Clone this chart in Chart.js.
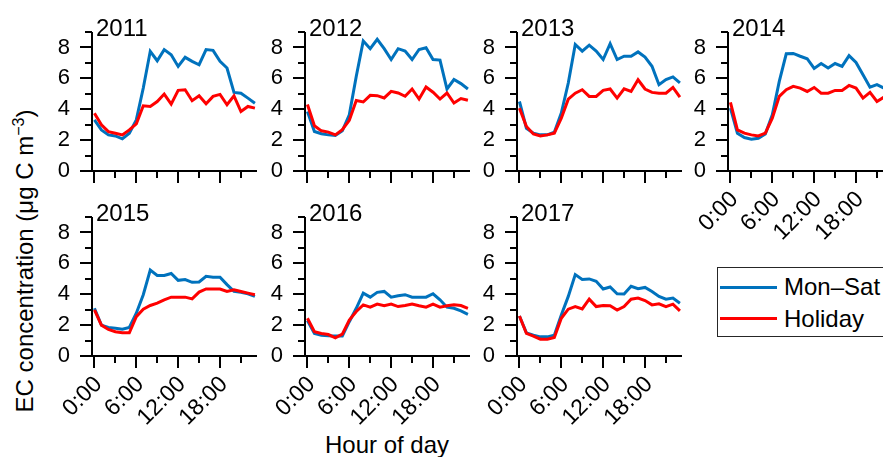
<!DOCTYPE html>
<html>
<head>
<meta charset="utf-8">
<script src="https://cdn.jsdelivr.net/npm/chart.js@4.4.1/dist/chart.umd.min.js"></script>
<style>
  html, body { margin: 0; padding: 0; background: #fff; }
  #fig { position: relative; width: 883px; height: 457px; overflow: hidden; font-family: "Liberation Sans", Arial, sans-serif; color: #000; }
  #fig canvas { position: absolute; }
  .ylab { position: absolute; left: 25px; top: 261px; font-size: 24px; line-height: 24px; white-space: nowrap; transform: translate(-50%, -50%) rotate(-90deg); }
  .ylab sup { font-size: 16px; line-height: 0; vertical-align: 9px; }
  .xlab { position: absolute; left: 387px; top: 433px; font-size: 24px; line-height: 24px; white-space: nowrap; transform: translateX(-50%); }
  .legend { position: absolute; left: 717px; top: 267px; width: 200px; height: 70px; border: 1px solid #262626; box-sizing: border-box; }
  .legend .swatch { position: absolute; left: 2px; width: 57px; height: 3px; }
  .legend .txt { position: absolute; left: 66px; font-size: 24px; line-height: 24px; white-space: nowrap; }
</style>
</head>
<body>
<div id="fig">
  <div class="ylab">EC concentration (μg C m<sup>−3</sup>)</div>
  <div class="xlab">Hour of day</div>
  <div class="legend">
    <div class="swatch" style="top:18px; background:#0072bd"></div>
    <div class="txt" style="top:7px">Mon–Sat</div>
    <div class="swatch" style="top:49px; background:#ff0000"></div>
    <div class="txt" style="top:39px">Holiday</div>
  </div>
</div>
<script>
Chart.defaults.font.family = "'Liberation Sans', Arial, sans-serif";
Chart.defaults.color = "#000";

// hour of day on x, EC concentration on y
const hours = [0, 1, 2, 3, 4, 5, 6, 7, 8, 9, 10, 11, 12, 13, 14, 15, 16, 17, 18, 19, 20, 21, 22, 23];
const xTickHours = [0, 6, 12, 18];
const xTickText = ["0:00", "6:00", "12:00", "18:00"];
const yTickValues = [0, 2, 4, 6, 8];

const monSat2011 = [3.31, 2.66, 2.34, 2.27, 2.08, 2.45, 3.31, 5.37, 7.75, 7.14, 7.86, 7.53, 6.77, 7.36, 7.1, 6.88, 7.86, 7.81, 7.1, 6.67, 5.09, 5.04, 4.72, 4.39];
const holiday2011 = [3.74, 2.99, 2.55, 2.45, 2.34, 2.66, 3.05, 4.22, 4.18, 4.5, 4.98, 4.33, 5.22, 5.26, 4.55, 4.87, 4.35, 4.83, 4.96, 4.29, 4.87, 3.85, 4.18, 4.07];

const monSat2012 = [3.86, 2.56, 2.41, 2.34, 2.3, 2.6, 3.64, 6.14, 8.42, 7.92, 8.53, 7.92, 7.22, 7.92, 7.77, 7.22, 7.87, 7.98, 7.22, 7.18, 5.31, 5.92, 5.66, 5.31];
const holiday2012 = [4.3, 2.93, 2.6, 2.52, 2.34, 2.67, 3.28, 4.56, 4.47, 4.9, 4.88, 4.73, 5.16, 5.05, 4.84, 5.31, 4.66, 5.44, 5.1, 4.66, 5.05, 4.4, 4.69, 4.58];

const monSat2013 = [4.5, 2.77, 2.45, 2.34, 2.34, 2.51, 3.75, 5.7, 8.19, 7.76, 8.15, 7.76, 7.22, 8.24, 7.22, 7.43, 7.43, 7.71, 7.38, 6.78, 5.59, 5.92, 6.09, 5.7];
const holiday2013 = [4.07, 2.88, 2.4, 2.27, 2.34, 2.45, 3.42, 4.65, 5.04, 5.26, 4.83, 4.83, 5.22, 5.31, 4.72, 5.32, 5.15, 5.91, 5.31, 5.09, 5.04, 5.04, 5.41, 4.78];

const monSat2014 = [4.07, 2.45, 2.17, 2.06, 2.12, 2.4, 3.64, 5.8, 7.59, 7.61, 7.43, 7.27, 6.64, 6.96, 6.67, 6.96, 6.78, 7.47, 7.03, 6.23, 5.43, 5.59, 5.37, 5.1];
const holiday2014 = [4.44, 2.66, 2.45, 2.34, 2.27, 2.45, 3.42, 4.83, 5.26, 5.48, 5.37, 5.15, 5.41, 5.04, 5.04, 5.22, 5.22, 5.54, 5.37, 4.72, 5.09, 4.5, 4.78, 4.7];

const monSat2015 = [3.09, 2.0, 1.85, 1.79, 1.74, 1.85, 2.77, 3.97, 5.56, 5.21, 5.21, 5.34, 4.9, 4.95, 4.77, 4.79, 5.16, 5.1, 5.1, 4.62, 4.18, 4.12, 4.03, 3.86];
const holiday2015 = [2.98, 2.0, 1.72, 1.57, 1.5, 1.5, 2.55, 3.03, 3.27, 3.42, 3.64, 3.81, 3.81, 3.81, 3.7, 4.14, 4.34, 4.34, 4.34, 4.18, 4.29, 4.18, 4.07, 3.97];

const monSat2016 = [2.29, 1.46, 1.35, 1.31, 1.29, 1.29, 2.22, 3.09, 4.07, 3.81, 4.12, 4.18, 3.81, 3.9, 3.97, 3.81, 3.81, 3.81, 4.03, 3.64, 3.16, 3.09, 2.92, 2.7];
const holiday2016 = [2.44, 1.57, 1.46, 1.39, 1.18, 1.42, 2.33, 2.88, 3.31, 3.16, 3.36, 3.25, 3.36, 3.2, 3.27, 3.36, 3.25, 3.16, 3.36, 3.16, 3.25, 3.31, 3.27, 3.09];

const monSat2017 = [2.59, 1.5, 1.35, 1.24, 1.24, 1.35, 2.66, 3.86, 5.27, 4.95, 4.99, 4.84, 4.34, 4.47, 4.03, 4.01, 4.51, 4.36, 4.44, 4.18, 3.86, 3.68, 3.75, 3.42];
const holiday2017 = [2.59, 1.46, 1.29, 1.09, 1.09, 1.2, 2.44, 3.03, 3.2, 3.05, 3.68, 3.2, 3.27, 3.25, 2.98, 3.2, 3.68, 3.75, 3.59, 3.31, 3.38, 3.2, 3.36, 2.92];

// grid slot of each year; x labels only where no panel sits below
const panels = [
  { year: "2011", monSat: monSat2011, holiday: holiday2011, col: 0, row: 0, xLabels: false },
  { year: "2012", monSat: monSat2012, holiday: holiday2012, col: 1, row: 0, xLabels: false },
  { year: "2013", monSat: monSat2013, holiday: holiday2013, col: 2, row: 0, xLabels: false },
  { year: "2014", monSat: monSat2014, holiday: holiday2014, col: 3, row: 0, xLabels: true },
  { year: "2015", monSat: monSat2015, holiday: holiday2015, col: 0, row: 1, xLabels: true },
  { year: "2016", monSat: monSat2016, holiday: holiday2016, col: 1, row: 1, xLabels: true },
  { year: "2017", monSat: monSat2017, holiday: holiday2017, col: 2, row: 1, xLabels: true }
];

const colLeft = [92, 305, 517, 728];
const rowTop = [32, 217];
const yAxisWidth = 70;
const xAxisHeight = 70;
const padTop = 32;
const padRight = 10;
const plotW = 165;
const plotH = 139;

// axis lines, major/minor tick marks and the year caption
const axisFrame = {
  id: "axisFrame",
  beforeDatasetsDraw(chart, args, opts) {
    const { ctx, chartArea: a, scales: { x, y } } = chart;
    ctx.save();
    ctx.strokeStyle = "#000";
    ctx.lineWidth = 2;
    ctx.beginPath();
    ctx.moveTo(a.left, y.getPixelForValue(9));
    ctx.lineTo(a.left, a.bottom);
    ctx.lineTo(a.right, a.bottom);
    for (let v = 0; v <= 9; v++) {
      const py = Math.round(y.getPixelForValue(v));
      ctx.moveTo(a.left - (v % 2 === 0 ? 12 : 7), py);
      ctx.lineTo(a.left, py);
    }
    for (let h = 0; h <= 21; h += 3) {
      const px = Math.round(x.getPixelForValue(h));
      ctx.moveTo(px, a.bottom);
      ctx.lineTo(px, a.bottom + (h % 6 === 0 ? 12 : 7));
    }
    ctx.stroke();
    ctx.restore();
  },
  afterDraw(chart, args, opts) {
    const { ctx, chartArea: a } = chart;
    ctx.save();
    ctx.fillStyle = "#000";
    ctx.font = "24px 'Liberation Sans', Arial, sans-serif";
    ctx.textBaseline = "alphabetic";
    ctx.fillText(opts.title, a.left + 4, a.top + 4);
    ctx.restore();
  }
};

const fig = document.getElementById("fig");

panels.forEach((p) => {
  const canvas = document.createElement("canvas");
  canvas.width = yAxisWidth + plotW + padRight;
  canvas.height = padTop + plotH + xAxisHeight;
  canvas.style.left = (colLeft[p.col] - yAxisWidth) + "px";
  canvas.style.top = (rowTop[p.row] - padTop) + "px";
  fig.appendChild(canvas);

  new Chart(canvas.getContext("2d"), {
    type: "line",
    data: {
      labels: hours,
      datasets: [{
        label: "Mon–Sat",
        data: p.monSat,
        borderColor: "#0072bd",
        borderWidth: 3,
        pointRadius: 0,
        order: 1
      }, {
        label: "Holiday",
        data: p.holiday,
        borderColor: "#ff0000",
        borderWidth: 3,
        pointRadius: 0,
        order: 0
      }]
    },
    options: {
      responsive: false,
      animation: false,
      devicePixelRatio: 1,
      events: [],
      layout: { padding: { top: padTop, right: padRight, left: 0, bottom: 0 } },
      plugins: {
        legend: { display: false },
        tooltip: { enabled: false },
        axisFrame: { title: p.year }
      },
      scales: {
        x: {
          type: "linear",
          min: -0.35,
          max: 23.3,
          grid: { display: false, drawTicks: false },
          border: { display: false },
          afterBuildTicks: (s) => { s.ticks = xTickHours.map((v) => ({ value: v })); },
          afterFit: (s) => { s.height = xAxisHeight; s.paddingLeft = 0; s.paddingRight = 0; },
          ticks: {
            display: p.xLabels,
            autoSkip: false,
            minRotation: 45,
            maxRotation: 45,
            padding: 15,
            labelOffset: 4,
            font: { size: 23 },
            callback: (v, i) => xTickText[i]
          }
        },
        y: {
          min: 0,
          max: 9,
          grid: { display: false, drawTicks: false },
          border: { display: false },
          afterBuildTicks: (s) => { s.ticks = yTickValues.map((v) => ({ value: v })); },
          afterFit: (s) => { s.width = yAxisWidth; s.paddingTop = 0; s.paddingBottom = 0; },
          ticks: {
            padding: 22,
            font: { size: 22 },
            callback: (v) => String(v)
          }
        }
      }
    },
    plugins: [axisFrame]
  });
});
</script>
</body>
</html>
